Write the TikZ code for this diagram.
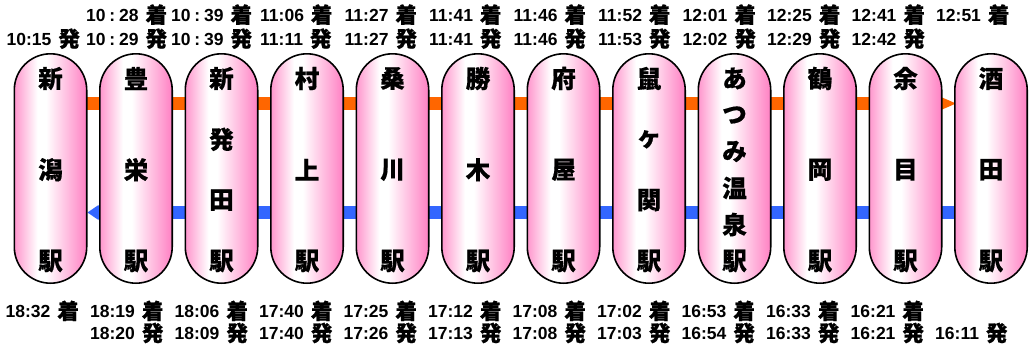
\documentclass[tikz,border=0pt]{standalone}
\usepackage{fontspec}
\newfontfamily\jp{Noto Sans CJK JP}[BoldFeatures={FakeBold=0.6}]
\newfontfamily\num{Liberation Sans}
\usetikzlibrary{backgrounds}
\definecolor{lineorange}{RGB}{255,102,0}
\definecolor{lineblue}{RGB}{51,102,255}
\definecolor{pinkL}{RGB}{255,150,205}
\definecolor{pinkR}{RGB}{255,128,195}
\pgfdeclarehorizontalshading{pillshade}{100bp}{color(0bp)=(pinkL); color(25bp)=(pinkL); color(41bp)=(white); color(47bp)=(white); color(75bp)=(pinkR); color(100bp)=(pinkR)}
\newcommand\tlab[2]{{\num\bfseries\fontsize{17.5}{17.5}\selectfont #1}\hspace{7pt}\raisebox{-1.8pt}{\jp\bfseries\fontsize{21.5}{21.5}\selectfont #2}}
\newcommand\wc{\hspace{3.8pt}:\hspace{3.8pt}}
\begin{document}
\begin{tikzpicture}[x=1pt,y=-1pt,
  pill/.style={draw=black, line width=1.6pt, rounded corners=36.2pt, minimum width=72.4pt, minimum height=229.4pt, inner sep=0pt, shading=pillshade},
  stchar/.style={font=\jp\bfseries\fontsize{24.5}{24.5}\selectfont, inner sep=0pt},
  tl/.style={anchor=base west, inner sep=0pt},
  orangeline/.style={draw=lineorange, line width=13pt},
  bluelinestyle/.style={draw=lineblue, line width=12.5pt},
  orangetip/.style={fill=lineorange},
  bluetip/.style={fill=lineblue}]
\useasboundingbox (0,0) rectangle (1030,349);
% pills
\foreach \i in {0,...,11}{
  \node[pill] (p\i) at ({50.5+85.5*\i},168.5) {};
}
% station names
\foreach \i/\chars/\n in {0/{新,潟,駅}/3, 1/{豊,栄,駅}/3, 2/{新,発,田,駅}/4, 3/{村,上,駅}/3, 4/{桑,川,駅}/3, 5/{勝,木,駅}/3, 6/{府,屋,駅}/3, 7/{鼠,ヶ,関,駅}/4, 8/{あ,つ,み,温,泉,駅}/6, 9/{鶴,岡,駅}/3, 10/{余,目,駅}/3, 11/{酒,田,駅}/3}{
  \foreach \c [count=\k] in \chars {
    \node[stchar] (s\i-\k) at ({50.5+85.5*\i}, {78.5+182.5*(\k-1)/(\n-1)}) {\c};
  }
}
% lines
\coordinate (yo) at (0,103.5);
\coordinate (yb) at (0,212.5);
\coordinate (otip) at ([xshift=2pt]p11.west |- yo);
\coordinate (obase) at ([xshift=-13pt]p11.west |- yo);
\coordinate (btip) at (p0.east |- yb);
\coordinate (bbase) at ([xshift=-0.5pt]p1.west |- yb);
\begin{scope}[on background layer]
  \draw[orangeline] (p0 |- yo) -- ([xshift=0.5pt]obase);
  \fill[orangetip] (otip) -- ([yshift=-6.5pt]obase) -- ([yshift=6.5pt]obase) -- cycle;
  \draw[bluelinestyle] (p11 |- yb) -- ([xshift=-0.5pt]bbase);
  \fill[bluetip] (btip) -- ([yshift=-7.5pt]bbase) -- ([yshift=7.5pt]bbase) -- cycle;
\end{scope}
% top row arrivals
\foreach \i/\t in {3/11:06, 4/11:27, 5/11:41, 6/11:46, 7/11:52, 8/12:01, 9/12:25, 10/12:41, 11/12:51}{
  \node[tl] (ta\i) at ({6.5+84.5*\i}, 21) {\tlab{\t}{着}};
}
\node[tl] (ta1) at (86, 21) {\tlab{10\wc28}{着}};
\node[tl] (ta2) at (171, 21) {\tlab{10\wc39}{着}};
% top row departures
\foreach \i/\t in {0/10:15, 3/11:11, 4/11:27, 5/11:41, 6/11:46, 7/11:53, 8/12:02, 9/12:29, 10/12:42}{
  \node[tl] (td\i) at ({6.5+84.5*\i}, 45) {\tlab{\t}{発}};
}
\node[tl] (td1) at (86, 45) {\tlab{10\wc29}{発}};
\node[tl] (td2) at (171, 45) {\tlab{10\wc39}{発}};
% bottom row arrivals
\foreach \i/\t in {0/18:32, 1/18:19, 2/18:06, 3/17:40, 4/17:25, 5/17:12, 6/17:08, 7/17:02, 8/16:53, 9/16:33, 10/16:21}{
  \node[tl] (ba\i) at ({5.5+84.5*\i}, 317.3) {\tlab{\t}{着}};
}
% bottom row departures
\foreach \i/\t in {1/18:20, 2/18:09, 3/17:40, 4/17:26, 5/17:13, 6/17:08, 7/17:03, 8/16:54, 9/16:33, 10/16:21, 11/16:11}{
  \node[tl] (bd\i) at ({5.5+84.5*\i}, 339.3) {\tlab{\t}{発}};
}
\end{tikzpicture}
\end{document}
